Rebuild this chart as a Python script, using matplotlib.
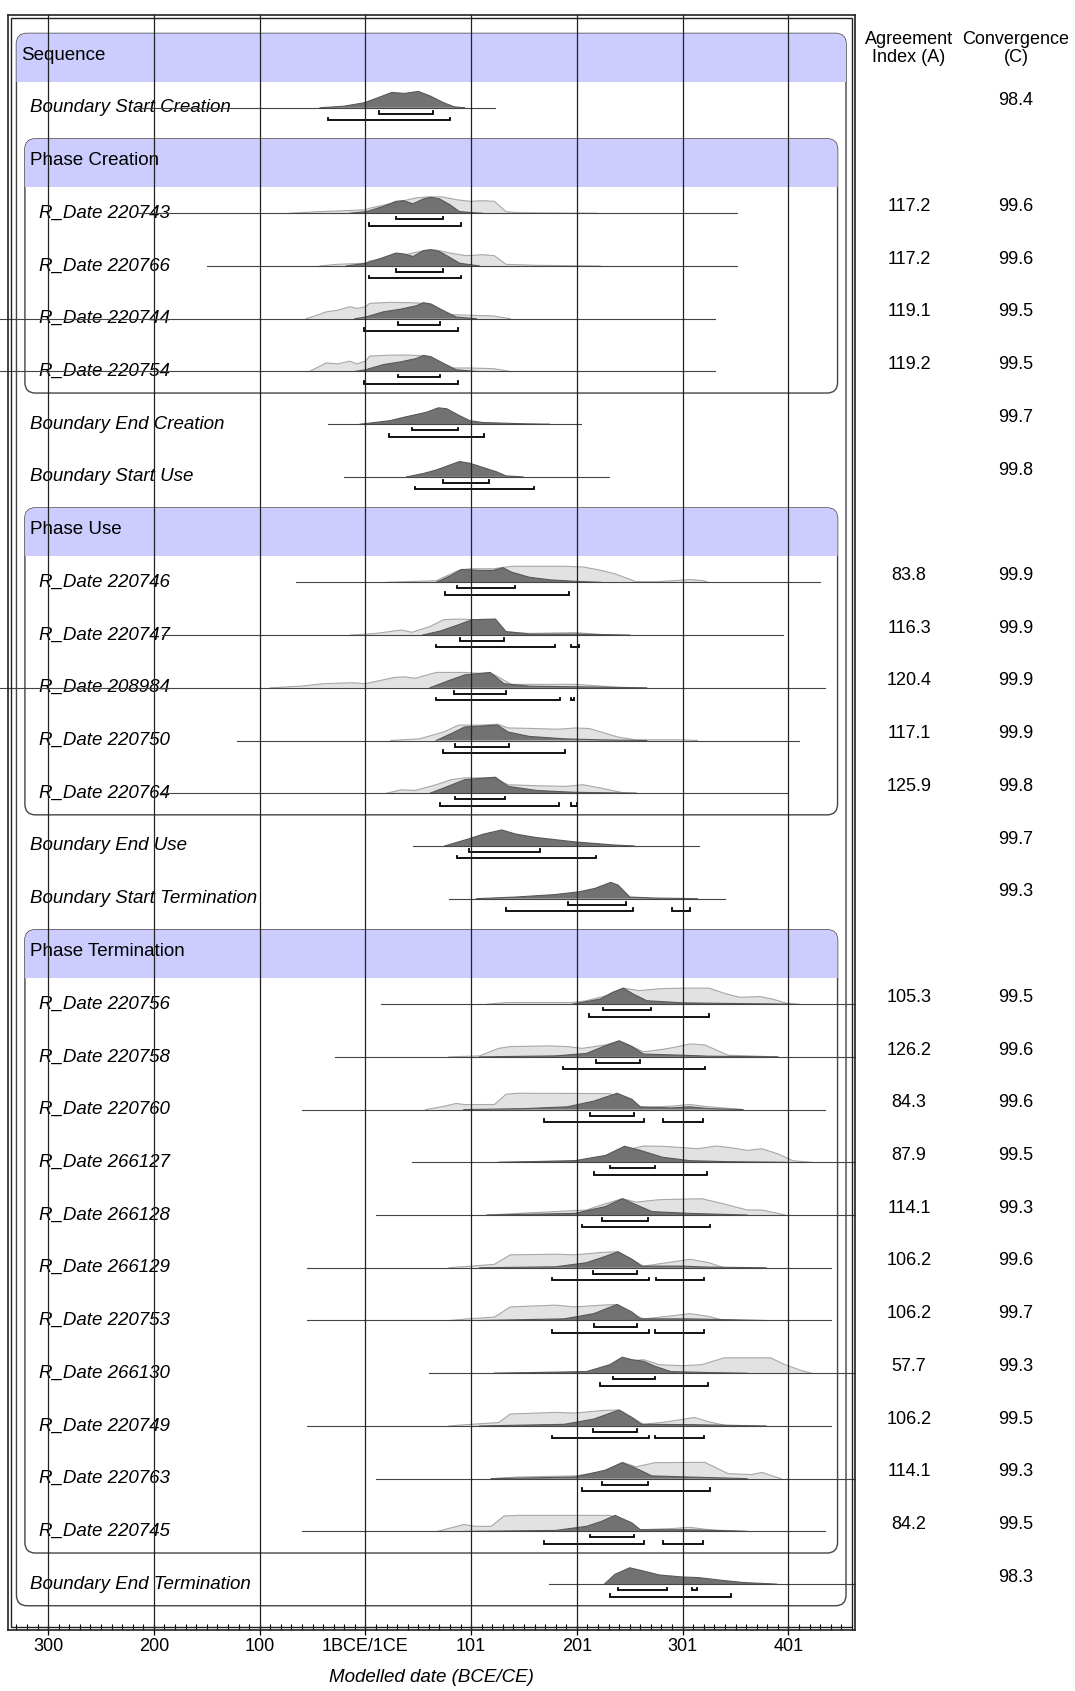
import matplotlib
matplotlib.use('Agg')
import matplotlib.pyplot as plt
import matplotlib.transforms as mtrans
from matplotlib.patches import FancyBboxPatch, Rectangle
from matplotlib.ticker import MultipleLocator

plt.rcParams['font.family'] = ['Liberation Sans', 'DejaVu Sans']

# ---------------------------------------------------------------------------
# Rows of the OxCal multiplot, top to bottom
labels = ['Sequence', 'Boundary Start Creation', 'Phase Creation',
          'R_Date 220743', 'R_Date 220766', 'R_Date 220744', 'R_Date 220754',
          'Boundary End Creation', 'Boundary Start Use', 'Phase Use',
          'R_Date 220746', 'R_Date 220747', 'R_Date 208984', 'R_Date 220750',
          'R_Date 220764', 'Boundary End Use', 'Boundary Start Termination',
          'Phase Termination',
          'R_Date 220756', 'R_Date 220758', 'R_Date 220760', 'R_Date 266127',
          'R_Date 266128', 'R_Date 266129', 'R_Date 220753', 'R_Date 266130',
          'R_Date 220749', 'R_Date 220763', 'R_Date 220745',
          'Boundary End Termination']
kinds = ['seq', 'bnd', 'phase', 'date', 'date', 'date', 'date', 'bnd', 'bnd',
         'phase', 'date', 'date', 'date', 'date', 'date', 'bnd', 'bnd', 'phase',
         'date', 'date', 'date', 'date', 'date', 'date', 'date', 'date', 'date',
         'date', 'date', 'bnd']

agreement = [None, None, None, 117.2, 117.2, 119.1, 119.2, None, None, None,
             83.8, 116.3, 120.4, 117.1, 125.9, None, None, None,
             105.3, 126.2, 84.3, 87.9, 114.1, 106.2, 106.2, 57.7, 106.2, 114.1,
             84.2, None]
convergence = [None, 98.4, None, 99.6, 99.6, 99.5, 99.5, 99.7, 99.8, None,
               99.9, 99.9, 99.9, 99.9, 99.8, 99.7, 99.3, None,
               99.5, 99.6, 99.6, 99.5, 99.3, 99.6, 99.7, 99.3, 99.5, 99.3,
               99.5, 98.3]

# extent of the thin line under each distribution (years, BCE negative)
span = {
  'Boundary Start Creation': (-215, 123),
  'R_Date 220743': (-215, 351), 'R_Date 220766': (-150, 351),
  'R_Date 220744': (-346, 331), 'R_Date 220754': (-346, 331),
  'Boundary End Creation': (-35, 204), 'Boundary Start Use': (-20, 230),
  'R_Date 220746': (-66, 430), 'R_Date 220747': (-192, 395),
  'R_Date 208984': (-346, 435), 'R_Date 220750': (-121, 410),
  'R_Date 220764': (-192, 399), 'Boundary End Use': (45, 315),
  'Boundary Start Termination': (79, 340),
  'R_Date 220756': (15, 463), 'R_Date 220758': (-29, 463),
  'R_Date 220760': (-60, 435), 'R_Date 266127': (44, 463),
  'R_Date 266128': (10, 463), 'R_Date 266129': (-55, 440),
  'R_Date 220753': (-55, 440), 'R_Date 266130': (60, 463),
  'R_Date 220749': (-55, 440), 'R_Date 220763': (10, 463),
  'R_Date 220745': (-60, 435), 'Boundary End Termination': (174, 463),
}

# unmodelled (light) distributions: (year, relative height)
likelihood = {
  'R_Date 220743': [(-72,0),(-43,.1),(-15,.17),(0,.21),(4,.31),(26,.62),(48,.94),(58,1),(73,1),(86,.83),(99,.73),(111,.77),(122,.73),(133,.1),(143,.04),(168,.02),(219,0)],
  'R_Date 220766': [(-43,0),(-27,.1),(0,.17),(4,.31),(26,.52),(55,.94),(67,.98),(80,.79),(95,.63),(111,.69),(122,.63),(133,.1),(162,.04),(222,0)],
  'R_Date 220744': [(-56,0),(-46,.21),(-37,.42),(-26,.52),(-15,.73),(-8,.63),(0,.73),(4,.94),(23,1),(42,.98),(55,.94),(67,.63),(80,.25),(99,.21),(121,.17),(137,0)],
  'R_Date 220754': [(-53,0),(-37,.52),(-26,.46),(-15,.63),(-8,.46),(0,.63),(4,.94),(23,1),(42,1),(55,.94),(67,.63),(80,.21),(99,.21),(121,.17),(137,0)],
  'R_Date 220746': [(20,0),(67,.1),(81,.52),(88,.73),(98,.83),(121,.83),(138,.98),(155,.98),(189,.98),(206,.94),(223,.73),(236,.52),(256,.04),(277,.04),(307,.17),(320,.1),(324,0)],
  'R_Date 220747': [(-14,0),(10,.1),(34,.31),(44,.17),(61,.52),(74,.94),(88,.98),(101,.94),(121,.94),(131,.21),(155,.1),(199,.15),(216,.06),(233,0)],
  'R_Date 208984': [(-90,0),(-61,.1),(-40,.25),(-13,.31),(0,.25),(27,.63),(37,.67),(47,.58),(67,.94),(94,.94),(121,.83),(138,.21),(172,.21),(199,.21),(223,.1),(243,0)],
  'R_Date 220750': [(24,0),(51,.1),(74,.52),(88,.94),(108,.94),(125,1),(135,.77),(162,.73),(182,.69),(199,.77),(212,.73),(239,.21),(256,.04),(300,.04),(314,0)],
  'R_Date 220764': [(20,0),(34,.21),(47,.17),(67,.52),(81,.83),(94,.94),(121,.94),(135,.52),(162,.46),(189,.42),(206,.52),(223,.31),(243,.04),(256,0)],
  'R_Date 220756': [(115,0),(134,.1),(196,.1),(209,.21),(228,.52),(244,.98),(259,.83),(278,.94),(300,.98),(325,.98),(341,.63),(354,.42),(373,.46),(385,.31),(398,.06),(410,0)],
  'R_Date 220758': [(79,0),(108,.06),(126,.52),(137,.63),(173,.67),(191,.63),(205,.52),(227,.73),(240,.98),(249,.73),(263,.31),(281,.46),(292,.58),(307,.79),(321,.73),(343,.1),(390,0)],
  'R_Date 220760': [(57,0),(75,.21),(86,.38),(93,.31),(122,.31),(133,.94),(144,1),(231,.98),(238,.83),(256,.1),(289,.21),(307,.31),(325,.17),(357,0)],
  'R_Date 266127': [(126,0),(216,.1),(238,.42),(252,.83),(263,1),(281,.98),(300,.9),(314,.83),(332,1),(347,.88),(361,.73),(375,.83),(390,.52),(404,.1),(422,0)],
  'R_Date 266128': [(115,0),(144,.1),(180,.21),(209,.31),(224,.63),(243,1),(256,.79),(278,.94),(318,1),(336,.73),(361,.31),(375,.31),(397,0)],
  'R_Date 266129': [(79,0),(100,.1),(122,.21),(137,.79),(180,.83),(198,.79),(224,.94),(238,.98),(252,.52),(263,.1),(285,.31),(307,.52),(325,.31),(339,0)],
  'R_Date 220753': [(79,0),(97,.1),(122,.21),(137,.83),(180,.94),(198,.83),(224,.94),(238,.98),(252,.42),(263,.1),(285,.25),(307,.42),(325,.25),(339,0)],
  'R_Date 266130': [(122,0),(216,.06),(234,.42),(249,.73),(263,.83),(278,.52),(300,.46),(318,.52),(339,.94),(361,.94),(383,.94),(397,.52),(412,.17),(422,0)],
  'R_Date 220749': [(79,0),(100,.1),(126,.21),(137,.73),(180,.83),(198,.79),(224,.94),(238,.98),(252,.52),(263,.1),(285,.25),(311,.52),(325,.25),(343,0)],
  'R_Date 220763': [(119,0),(144,.1),(198,.17),(224,.42),(243,1),(256,.73),(274,.98),(321,1),(343,.31),(365,.25),(375,.38),(393,0)],
  'R_Date 220745': [(68,0),(93,.42),(104,.31),(119,.31),(131,.94),(144,.98),(231,.98),(238,.83),(258,.1),(289,.17),(307,.25),(325,.1),(361,0)],
}

# modelled (dark) distributions
posterior = {
  'Boundary Start Creation': [(-43,0),(-20,.1),(-1,.31),(12,.62),(25,.94),(37,.88),(50,1),(61,.73),(74,.31),(84,.06),(94,0)],
  'R_Date 220743': [(-15,0),(1,.1),(17,.42),(29,.73),(36,.77),(45,.58),(55,.88),(62,.98),(70,.88),(80,.52),(89,.1),(105,.02),(111,0)],
  'R_Date 220766': [(-18,0),(1,.17),(17,.52),(29,.79),(37,.73),(45,.58),(55,.94),(62,1),(70,.88),(80,.52),(89,.17),(108,0)],
  'R_Date 220744': [(-10,0),(0,.1),(17,.42),(33,.58),(48,.79),(55,.98),(62,.9),(73,.52),(86,.1),(105,0)],
  'R_Date 220754': [(-10,0),(0,.1),(17,.42),(33,.58),(48,.79),(55,.98),(62,.9),(73,.52),(86,.1),(105,0)],
  'Boundary End Creation': [(-5,0),(1,.04),(23,.21),(39,.46),(58,.73),(69,1),(77,.94),(89,.52),(99,.21),(111,.1),(152,.02),(174,0)],
  'Boundary Start Use': [(39,0),(55,.21),(67,.42),(80,.73),(89,.94),(99,.83),(111,.58),(124,.31),(133,.06),(149,0)],
  'R_Date 220746': [(67,0),(81,.42),(91,.79),(108,.73),(121,.73),(130,.9),(138,.63),(155,.31),(175,.15),(199,.06),(223,0)],
  'R_Date 220747': [(54,0),(71,.25),(88,.63),(101,.94),(123,.98),(133,.21),(155,.06),(199,.06),(250,0)],
  'R_Date 208984': [(61,0),(78,.42),(94,.79),(118,.94),(131,.25),(155,.1),(199,.06),(266,0)],
  'R_Date 220750': [(67,0),(81,.42),(94,.83),(125,.94),(135,.52),(155,.25),(189,.1),(223,.04),(266,0)],
  'R_Date 220764': [(61,0),(78,.42),(94,.83),(123,.98),(135,.42),(162,.17),(196,.06),(256,0)],
  'Boundary End Use': [(75,0),(97,.42),(112,.73),(129,.98),(142,.73),(161,.52),(198,.25),(235,.06),(254,0)],
  'Boundary Start Termination': [(105,0),(142,.1),(179,.25),(202,.42),(217,.63),(232,1),(239,.83),(250,.1),(273,.04),(314,0)],
  'R_Date 220756': [(196,0),(222,.31),(234,.73),(244,.98),(253,.63),(266,.21),(300,.08),(347,.04),(401,0)],
  'R_Date 220758': [(108,0),(180,.06),(209,.21),(225,.63),(240,.98),(252,.63),(263,.17),(300,.1),(325,.04),(390,0)],
  'R_Date 220760': [(93,0),(151,.06),(191,.17),(216,.52),(238,1),(252,.63),(260,.17),(289,.1),(307,.17),(325,.06),(357,0)],
  'R_Date 266127': [(126,0),(198,.1),(227,.42),(245,.98),(260,.73),(281,.31),(307,.1),(343,.04),(397,0)],
  'R_Date 266128': [(115,0),(198,.1),(227,.52),(243,1),(256,.63),(271,.21),(307,.1),(361,0)],
  'R_Date 266129': [(108,0),(180,.06),(209,.31),(224,.63),(239,.98),(252,.52),(261,.1),(299,.1),(325,.04),(379,0)],
  'R_Date 220753': [(108,0),(188,.1),(216,.42),(238,.98),(252,.52),(260,.1),(307,.1),(379,0)],
  'R_Date 266130': [(122,0),(209,.1),(231,.52),(243,.98),(252,.83),(263,.73),(274,.42),(289,.1),(325,.04),(361,0)],
  'R_Date 220749': [(108,0),(188,.1),(216,.42),(240,.98),(252,.52),(261,.1),(307,.08),(379,0)],
  'R_Date 220763': [(119,0),(198,.1),(227,.52),(243,.98),(256,.63),(271,.17),(307,.1),(361,0)],
  'R_Date 220745': [(93,0),(180,.06),(209,.31),(224,.63),(236,.98),(252,.52),(260,.1),(307,.1),(361,0)],
  'Boundary End Termination': [(226,0),(236,.6),(250,1),(263,.8),(278,.56),(299,.44),(315,.4),(336,.24),(357,.1),(389,0)],
}

# highest posterior density ranges
hpd68 = {
  'Boundary Start Creation': [(13,64)],
  'R_Date 220743': [(29,73)], 'R_Date 220766': [(29,73)],
  'R_Date 220744': [(31,71)], 'R_Date 220754': [(31,71)],
  'Boundary End Creation': [(44,88)], 'Boundary Start Use': [(73,117)],
  'R_Date 220746': [(87,141)], 'R_Date 220747': [(89,131)],
  'R_Date 208984': [(84,133)], 'R_Date 220750': [(85,136)],
  'R_Date 220764': [(85,132)], 'Boundary End Use': [(98,165)],
  'Boundary Start Termination': [(192,246)],
  'R_Date 220756': [(225,270)], 'R_Date 220758': [(218,260)],
  'R_Date 220760': [(212,254)], 'R_Date 266127': [(231,274)],
  'R_Date 266128': [(224,267)], 'R_Date 266129': [(215,257)],
  'R_Date 220753': [(216,257)], 'R_Date 266130': [(234,274)],
  'R_Date 220749': [(215,257)], 'R_Date 220763': [(224,267)],
  'R_Date 220745': [(212,254)],
  'Boundary End Termination': [(239,285),(309,314)],
}
hpd95 = {
  'Boundary Start Creation': [(-35,80)],
  'R_Date 220743': [(3,90)], 'R_Date 220766': [(3,90)],
  'R_Date 220744': [(-1,88)], 'R_Date 220754': [(-1,88)],
  'Boundary End Creation': [(22,112)], 'Boundary Start Use': [(47,159)],
  'R_Date 220746': [(75,193)], 'R_Date 220747': [(67,179),(194,202)],
  'R_Date 208984': [(67,184),(194,197)], 'R_Date 220750': [(73,189)],
  'R_Date 220764': [(71,183),(194,200)], 'Boundary End Use': [(87,218)],
  'Boundary Start Termination': [(133,253),(290,307)],
  'R_Date 220756': [(211,325)], 'R_Date 220758': [(187,321)],
  'R_Date 220760': [(169,263),(281,319)], 'R_Date 266127': [(216,323)],
  'R_Date 266128': [(205,326)], 'R_Date 266129': [(176,268),(275,320)],
  'R_Date 220753': [(176,268),(274,320)], 'R_Date 266130': [(222,324)],
  'R_Date 220749': [(176,268),(274,320)], 'R_Date 220763': [(205,326)],
  'R_Date 220745': [(169,263),(281,319)],
  'Boundary End Termination': [(231,346)],
}

year_ticks = [-300, -200, -100, 0, 100, 200, 300, 400]
year_labels = ['300', '200', '100', '1BCE/1CE', '101', '201', '301', '401']

# ---------------------------------------------------------------------------
W, H = 1075, 1691
fig = plt.figure(figsize=(W / 100, H / 100), dpi=100)
ax = fig.add_axes([8 / W, 61 / H, 847 / W, 1615 / H])
ax.set_xlim(-338, 463)
ax.set_ylim(29.87, -0.76)

PEAK = 0.31          # height of a full distribution, in rows
ASPECT = 0.02005     # rows per year at equal pixel size
LAVENDER = '#ccccff'
FS = 13.5

# boxes for the sequence and the phases
for i, k in enumerate(kinds):
  if k not in ('seq', 'phase'):
    continue
  last = i
  if k == 'seq':
    last = len(labels) - 1
    x0, x1 = -330, 454.5
  else:
    while last + 1 < len(kinds) and kinds[last + 1] == 'date':
      last += 1
    x0, x1 = -322, 446.5
  top = i - 0.41
  box = FancyBboxPatch((x0, top), x1 - x0, last + 0.41 - top,
                       boxstyle='round,pad=0,rounding_size=10',
                       mutation_aspect=ASPECT, facecolor='white',
                       edgecolor='#444444', lw=1.0, zorder=1 + 0.01 * i)
  ax.add_patch(box)
  band = Rectangle((x0 - 5, top - 0.1), x1 - x0 + 10, 0.92 + 0.1,
                   facecolor=LAVENDER, edgecolor='none',
                   zorder=1.005 + 0.01 * i)
  ax.add_patch(band)
  band.set_clip_path(box)

def range_bar(a, b, y):
  ax.plot([a, a, b, b], [y - 0.05, y, y, y - 0.05], color='black',
          lw=1.3, zorder=4, solid_joinstyle='miter')

for i, (lab, k) in enumerate(zip(labels, kinds)):
  if k == 'seq':
    ax.text(-326, i, lab, fontsize=FS, va='center', ha='left', zorder=3)
    continue
  if k == 'phase':
    ax.text(-317, i, lab, fontsize=FS, va='center', ha='left', zorder=3)
    continue
  xt = -309 if k == 'date' else -317
  ax.text(xt, i, lab, fontsize=FS, style='italic', va='center', ha='left',
          zorder=3)
  a, b = span[lab]
  ax.plot([a, b], [i, i], color='#444444', lw=0.8, zorder=4, clip_on=False)
  if lab in likelihood:
    xs = [p[0] for p in likelihood[lab]]
    ys = [i - p[1] * PEAK for p in likelihood[lab]]
    ax.fill_between(xs, i, ys, facecolor='#e2e2e2', edgecolor='none', zorder=2)
    ax.plot(xs, ys, color='#a8a8a8', lw=0.8, zorder=2.1)
  xs = [p[0] for p in posterior[lab]]
  ys = [i - p[1] * PEAK for p in posterior[lab]]
  ax.fill_between(xs, i, ys, facecolor='#727272', edgecolor='none', zorder=2.2)
  ax.plot(xs, ys, color='#585858', lw=0.8, zorder=2.3)
  for a, b in hpd68[lab]:
    range_bar(a, b, i + 0.115)
  for a, b in hpd95[lab]:
    range_bar(a, b, i + 0.235)

# vertical grid lines over everything
for t in year_ticks:
  ax.axvline(t, color='#222222', lw=0.9, zorder=5)

ax.set_xticks(year_ticks)
ax.set_xticklabels(year_labels, fontsize=13)
ax.xaxis.set_minor_locator(MultipleLocator(10))
ax.tick_params(axis='x', which='major', direction='inout', length=7, width=0.9,
               pad=2)
ax.tick_params(axis='x', which='minor', direction='in', length=4, width=0.8)
ax.set_yticks([])
for s in ax.spines.values():
  s.set_linewidth(1.2)
  s.set_color('#222222')
  s.set_zorder(6)
# second line of the double frame
ax.add_patch(Rectangle((3 / 847, 3 / 1615), 1 - 6 / 847, 1 - 6 / 1615,
                       transform=ax.transAxes, fill=False, edgecolor='#222222',
                       lw=1.0, zorder=6, clip_on=False))

fig.text(431.5 / W, 1 - 1678 / H, 'Modelled date (BCE/CE)', fontsize=FS,
         style='italic', ha='center', va='center')

# agreement / convergence columns
fig.text(909 / W, 1 - 48.5 / H, 'Agreement\nIndex (A)', fontsize=13,
         ha='center', va='center', linespacing=1.15)
fig.text(1016 / W, 1 - 48.5 / H, 'Convergence\n(C)', fontsize=13,
         ha='center', va='center', linespacing=1.15)
tr = mtrans.blended_transform_factory(fig.transFigure, ax.transData)
for i in range(len(labels)):
  if agreement[i] is not None:
    ax.text(909 / W, i - 0.13, '%.1f' % agreement[i], transform=tr,
            fontsize=13, ha='center', va='center', clip_on=False)
  if convergence[i] is not None:
    ax.text(1016 / W, i - 0.13, '%.1f' % convergence[i], transform=tr,
            fontsize=13, ha='center', va='center', clip_on=False)

fig.savefig('out.png', dpi=100)
